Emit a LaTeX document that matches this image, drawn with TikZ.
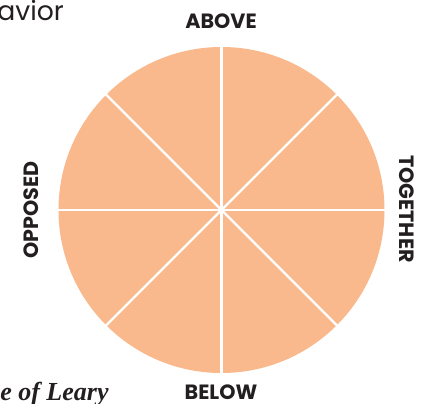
\documentclass[tikz,border=0pt]{standalone}
\usepackage{fontspec}
\setmainfont{Poppins}
\newfontfamily\learyfont{Liberation Serif}
\usetikzlibrary{positioning}
\definecolor{wedge}{RGB}{249,185,140}
\definecolor{ink}{RGB}{35,31,32}

\begin{document}
\begin{tikzpicture}[x=0.75pt,y=0.75pt,
  axis/.style={font=\fontsize{15.5}{18}\selectfont\bfseries, text=ink, inner sep=0pt},
  spoke/.style={draw=white, line width=1.6pt},
]
\useasboundingbox (0,0) rectangle (427,403);

% the circle and its eight slices
\coordinate (c) at (221.5,193);
\fill[wedge] (c) circle (163);
\foreach \a in {0,45,...,315}
  \draw[spoke] (c) -- ++(\a:164);

% the four directions
\node[axis] (above) at (221,382) {ABOVE};
\node[axis] (below) at (221,11) {BELOW};
\node[axis, rotate=-90] (together) at (406.5,194) {TOGETHER};
\node[axis, rotate=90] (opposed) at (31.5,193) {OPPOSED};

% cut-off texts at the edges
\node[anchor=base west, inner sep=0pt, text=ink, font=\fontsize{20}{24}\selectfont] (title) at (-3,382) {avior};
\node[anchor=base west, inner sep=0pt, text=ink, font=\learyfont\bfseries\itshape\fontsize{19.5}{22}\selectfont] (caption) at (0,3) {e of Leary};
\end{tikzpicture}
\end{document}
